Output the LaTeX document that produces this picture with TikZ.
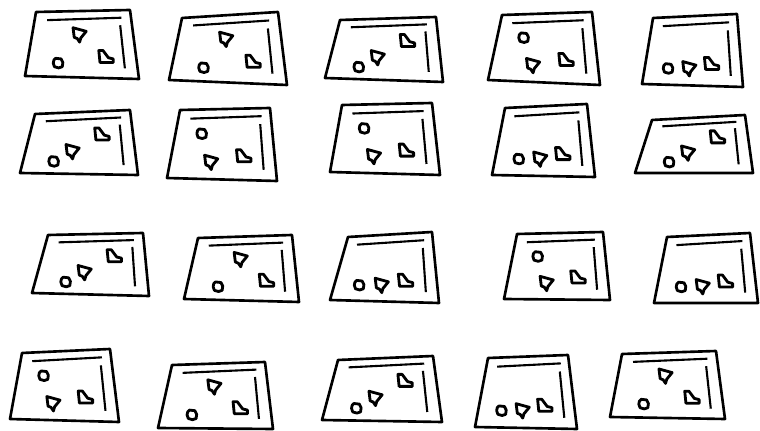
\documentclass[tikz,border=0pt]{standalone}
\usetikzlibrary{calc}

\tikzset{
  frame/.style={line width=1.5pt, line join=round},
  wall/.style={line width=1.2pt},
  obj/.style={line width=1.6pt, line join=round, scale=1.2},
}
% point (u,v) of the current frame, u left->right, v bottom->top
\newcommand{\setpt}[3]{\coordinate (#1) at ($($(bl)!#2!(br)$)!#3!($(tl)!#2!(tr)$)$);}
\newcommand{\blob}[1]{\draw[obj, shift={(#1)}] (-2,-4) -- (2.5,-3.5) -- (4,-0.5) -- (3.5,3) -- (0.5,4) -- (-3,3) -- (-4,0) -- (-3.5,-2.5) -- cycle;}
\newcommand{\prism}[1]{\draw[obj, shift={(#1)}] (-5.5,-6) -- (5.5,-3) -- (1,2.5) -- (0,6) -- (-2,3) -- (-4.5,2) -- cycle;}
\newcommand{\boot}[1]{\draw[obj, shift={(#1)}] (-6,-5) -- (-2.5,-5) -- (2,1) -- (6,2) -- (6,5) -- (-5,5) -- cycle;}
% the four layouts of the objects
\newcommand{\layA}{\setpt{c}{0.28}{0.21}\setpt{t}{0.47}{0.64}\setpt{l}{0.72}{0.32}}
\newcommand{\layB}{\setpt{c}{0.27}{0.2}\setpt{t}{0.43}{0.36}\setpt{l}{0.70}{0.64}}
\newcommand{\layC}{\setpt{c}{0.27}{0.65}\setpt{t}{0.39}{0.24}\setpt{l}{0.70}{0.34}}
\newcommand{\layD}{\setpt{c}{0.24}{0.24}\setpt{t}{0.46}{0.24}\setpt{l}{0.69}{0.32}}
\newcommand{\scene}[5]{%
  \coordinate (tl) at (#1); \coordinate (tr) at (#2); \coordinate (br) at (#3); \coordinate (bl) at (#4);
  \draw[frame] (tl) -- (tr) -- (br) -- (bl) -- cycle;
  \setpt{w1}{0.13}{0.87}\setpt{w2}{0.9}{0.89}\draw[wall] (w1) -- (w2);
  \setpt{w3}{0.88}{0.78}\setpt{w4}{0.885}{0.15}\draw[wall] (w3) -- (w4);
  #5\blob{c}\prism{t}\boot{l}}

\begin{document}
\begin{tikzpicture}[x=0.02cm, y=-0.02cm]
	\useasboundingbox (0,0) rectangle (760,431);
	% row 1
	\scene{36,12}{130,10}{139,79}{25,76}{\layA}
	\scene{182,18}{278,12}{287,85}{169,80}{\layA}
	\scene{340,20}{436,17}{443,82}{325,78}{\layB}
	\scene{502,15}{592,12}{600,85}{488,80}{\layC}
	\scene{653,18}{737,14}{743,87}{642,84}{\layD}
	% row 2
	\scene{35,114}{130,110}{138,175}{20,173}{\layB}
	\scene{180,110}{270,108}{277,181}{167,178}{\layC}
	\scene{342,105}{432,103}{440,175}{330,172}{\layC}
	\scene{505,108}{587,104}{595,177}{492,175}{\layD}
	\scene{652,120}{745,115}{753,173}{635,173}{\layB}
	% row 3
	\scene{48,235}{143,233}{149,296}{32,293}{\layB}
	\scene{198,238}{292,235}{299,302}{184,299}{\layA}
	\scene{348,237}{432,232}{439,303}{330,300}{\layD}
	\scene{517,234}{603,232}{610,300}{504,299}{\layC}
	\scene{667,237}{750,233}{758,303}{654,303}{\layD}
	% row 4
	\scene{22,353}{110,349}{119,422}{10,419}{\layC}
	\scene{172,365}{265,362}{273,429}{158,428}{\layA}
	\scene{338,360}{433,356}{442,422}{322,420}{\layB}
	\scene{488,358}{568,355}{577,429}{475,427}{\layD}
	\scene{622,354}{716,351}{725,419}{610,417}{\layA}
\end{tikzpicture}
\end{document}
